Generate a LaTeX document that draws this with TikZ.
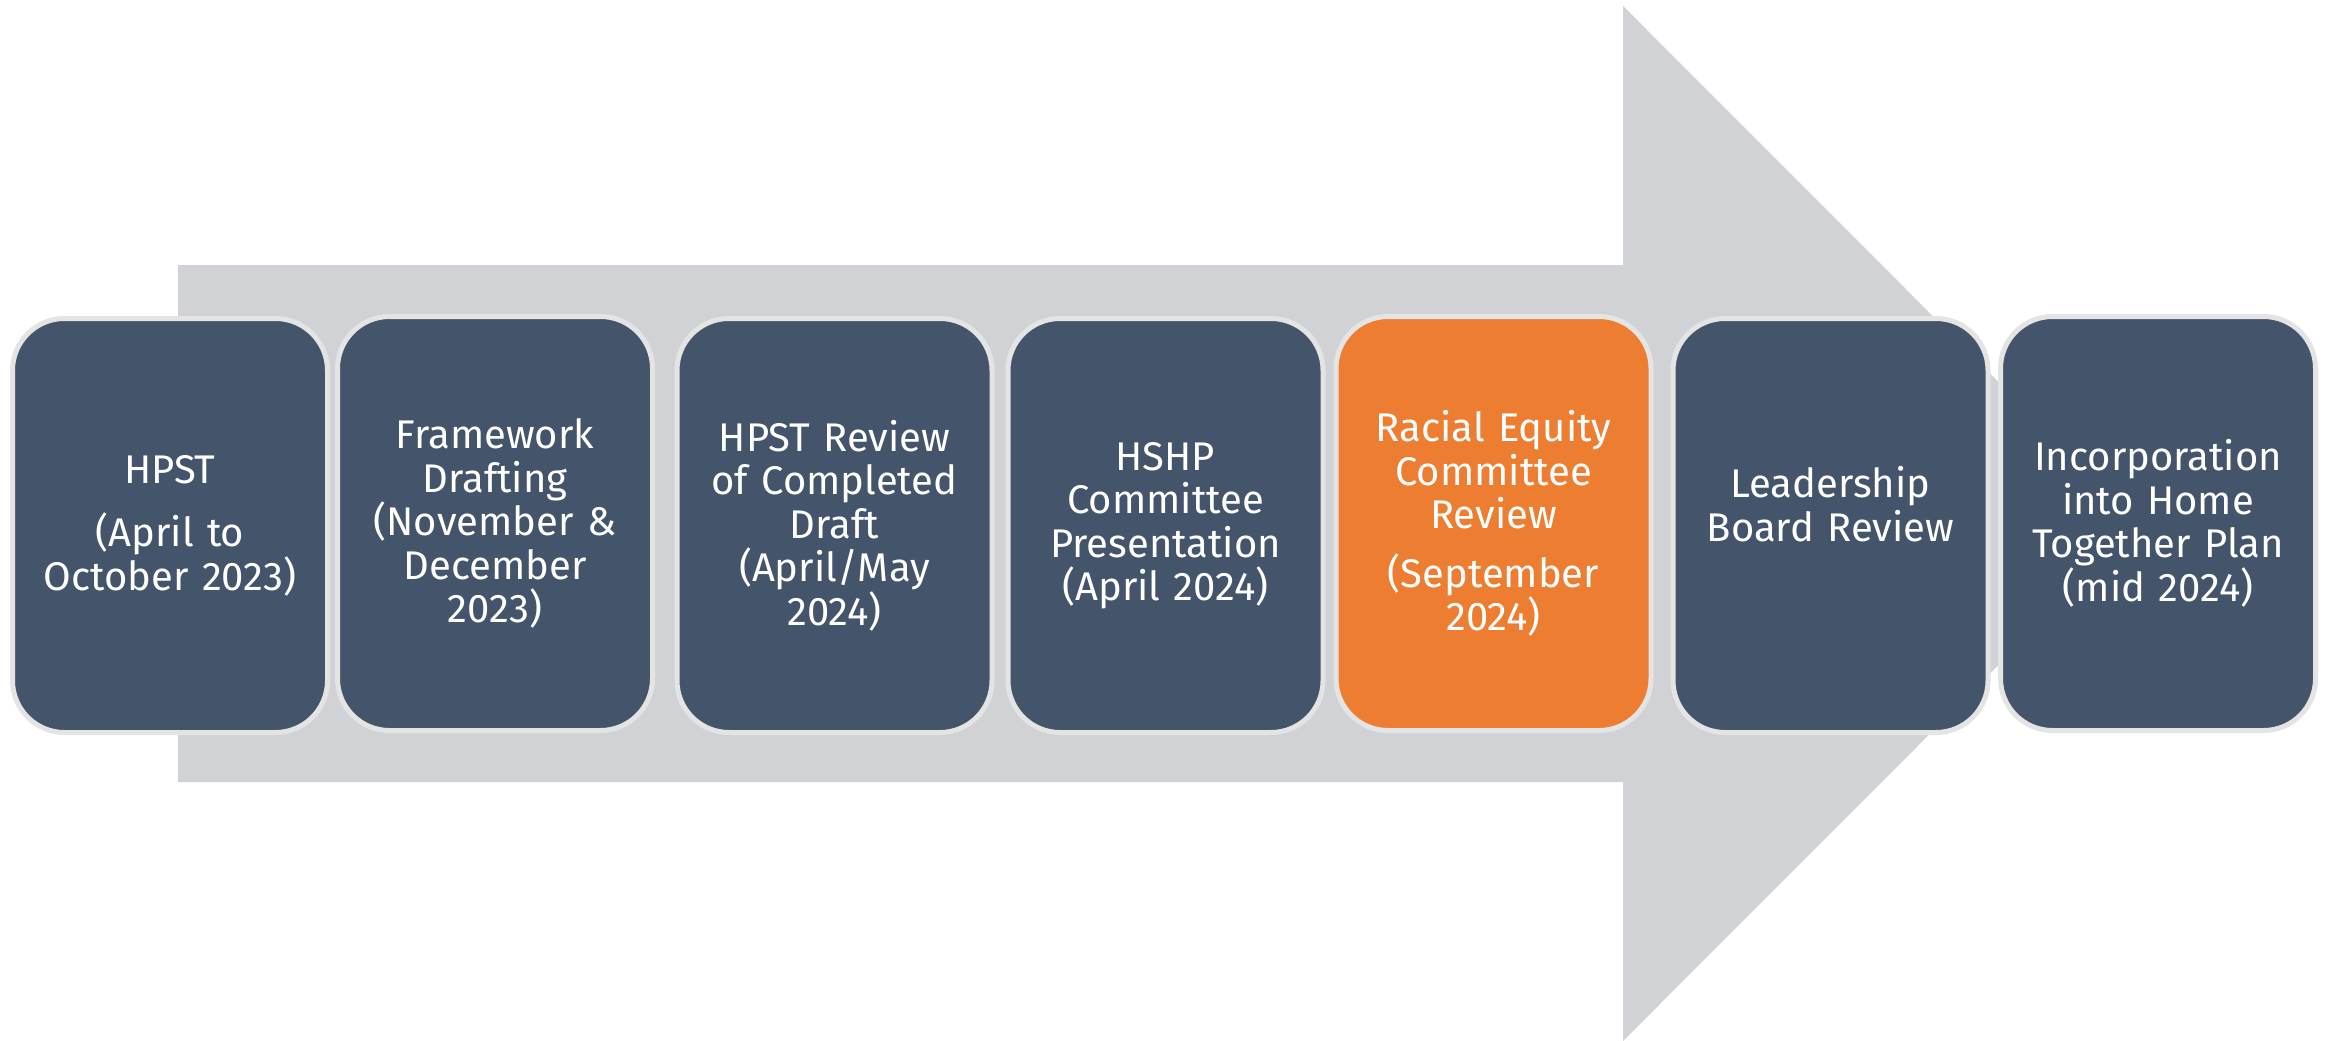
\documentclass[tikz,border=0pt]{standalone}
\usepackage{fontspec}
\setmainfont{Fira Sans}
\definecolor{slate}{HTML}{44546A}
\definecolor{orangebox}{HTML}{ED7D31}
\definecolor{arrowgray}{HTML}{D0D2D6}
\definecolor{ringgray}{HTML}{E4E4E4}
\tikzset{
  stagebox/.style={draw=ringgray, line width=5pt, fill=slate, rounded corners=52pt,
    minimum width=315pt, minimum height=414pt, inner sep=0pt, text width=300pt,
    align=center, text=white, font=\fontsize{40}{43.5}\selectfont},
  hotbox/.style={stagebox, fill=orangebox}
}
\begin{document}
\begin{tikzpicture}[x=1pt,y=-1pt]
\useasboundingbox (0,0) rectangle (2331,1041);
\fill[white] (0,0) rectangle (2331,1041);
% big arrow
\fill[arrowgray] (178,265) -- (1623,265) -- (1623,6) -- (2140,523.5) -- (1623,1041) -- (1623,782) -- (178,782) -- cycle;
% stages
\node[stagebox] (s1) at (170,525.5) {HPST\\[20pt](April to\\October 2023)};
\node[stagebox] (s2) at (495,523.5) {Framework\\Drafting\\(November \&\\December\\2023)};
\node[stagebox] (s3) at (834.5,525.5) {HPST Review\\of Completed\\Draft\\(April/May\\2024)};
\node[stagebox] (s4) at (1165.5,525.5) {HSHP\\Committee\\Presentation\\(April 2024)};
\node[hotbox] (s5) at (1493.5,523.5) {Racial Equity\\Committee\\Review\\[15pt](September\\2024)};
\node[stagebox] (s6) at (1830.5,525.5) {Leadership\\Board Review\\\mbox{}};
\node[stagebox] (s7) at (2158,523.5) {Incorporation\\into Home\\Together Plan\\(mid 2024)};
\end{tikzpicture}
\end{document}
